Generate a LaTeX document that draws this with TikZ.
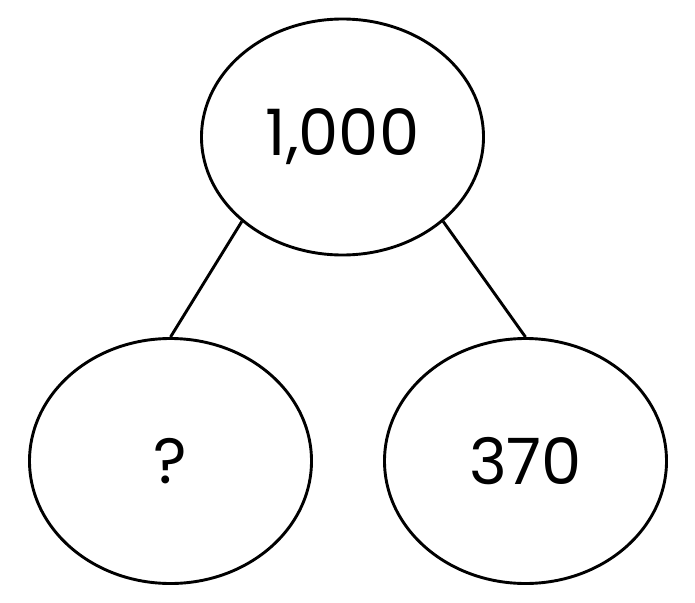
\documentclass[tikz,border=0pt]{standalone}
\usepackage{fontspec}
\setmainfont{Poppins}
\usetikzlibrary{shapes.geometric}
\tikzset{
  numbubble/.style={draw=black,ellipse,line width=2.9pt,inner sep=0pt,
    minimum width=282pt,font=\fontsize{64}{70}\selectfont},
  wholebubble/.style={numbubble,minimum height=236pt},
  partbubble/.style={numbubble,minimum height=245pt},
  bondline/.style={line width=2.9pt}
}
\begin{document}
\begin{tikzpicture}[x=1pt,y=-1pt]
  \useasboundingbox (0,0) rectangle (695,602);
  \node[wholebubble] (whole) at (342.5,137) {1,000};
  \node[partbubble] (partleft) at (170.5,461) {?};
  \node[partbubble] (partright) at (525.5,461) {370};
  \draw[bondline] (whole.220)--(partleft.north);
  \draw[bondline] (whole.320)--(partright.north);
\end{tikzpicture}
\end{document}
